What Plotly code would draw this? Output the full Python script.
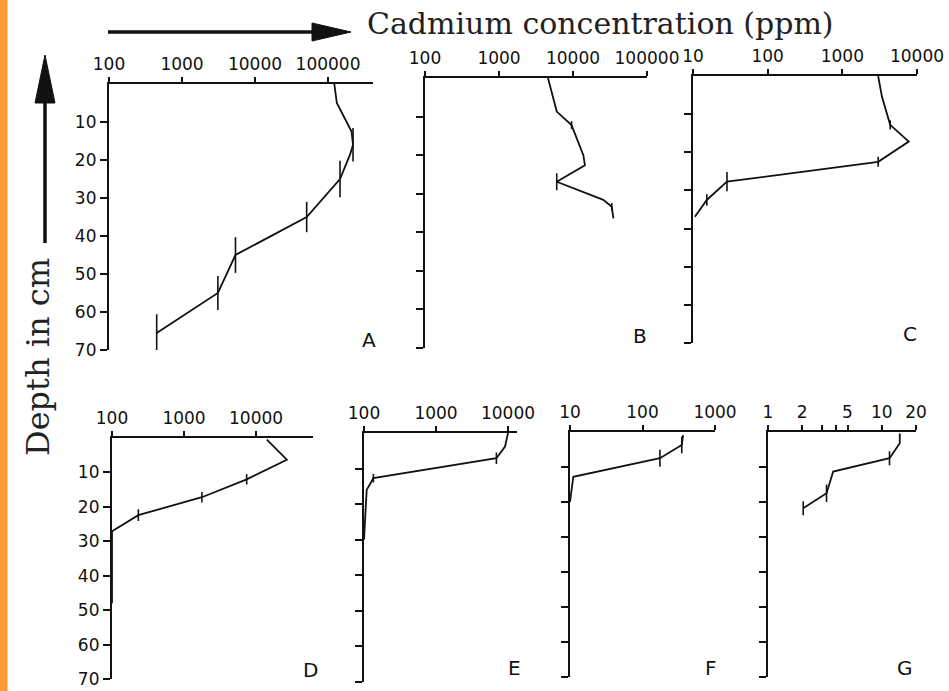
import plotly.graph_objects as go

W, H = 949, 691

# ---------------- data (depth in cm, cadmium in ppm) ----------------
panels = ["A", "B", "C", "D", "E", "F", "G"]

A_depth = [0, 5, 12.5, 16, 18.6, 25, 35, 45, 55, 65.5]
A_cd = [122000, 132000, 210000, 220000, 200000, 146000, 51000, 5400, 3100, 450]
A_bar = [0, 0, 0, 4.4, 0, 4.8, 4.0, 4.7, 4.5, 4.9]

B_depth = [0, 5.7, 8.7, 12.2, 20, 22.6, 26.9, 31.6, 33.4, 36.4]
B_cd = [4590, 5420, 6030, 9560, 13800, 14500, 6030, 25700, 33400, 35200]
B_bar = [0, 0, 0, 1.0, 0, 0, 2.2, 0, 1.0, 0]

C_depth = [0, 5.4, 12.8, 17.2, 22.5, 27.7, 32.5, 36.9]
C_cd = [3020, 3390, 4370, 7760, 3020, 28.5, 15.3, 10.6]
C_bar = [0, 0, 1.2, 0, 1.3, 2.5, 1.5, 0]

D_depth = [0.5, 6.3, 12, 17.2, 22.4, 27.1, 48]
D_cd = [14100, 26700, 7400, 1770, 232, 100, 100]
D_bar = [0, 0, 1.5, 1.5, 1.7, 0, 0]

E_depth = [0, 3.8, 7.1, 12.7, 16, 30]
E_cd = [10000, 9100, 6900, 135, 109, 100]
E_bar = [0, 0, 1.6, 1.2, 0, 0]

F_depth = [0.9, 3.7, 7.5, 12.8, 20]
F_cd = [363, 348, 174, 11.1, 10]
F_bar = [0, 2.4, 2.4, 0, 0]

G_depth = [0.4, 3.2, 7.5, 11.3, 17.5, 21.8]
G_cd = [14.4, 14.4, 11.7, 3.74, 3.27, 2.04]
G_bar = [0, 0, 2.0, 0, 2.5, 2.0]

depth_ticks = [10, 20, 30, 40, 50, 60, 70]

A_xticks = [100, 1000, 10000, 100000]
B_xticks = [100, 1000, 10000, 100000]
C_xticks = [10, 100, 1000, 10000]
D_xticks = [100, 1000, 10000]
E_xticks = [100, 1000, 10000]
F_xticks = [10, 100, 1000]
G_xticks = [1, 2, 3, 4, 5, 10, 20]
G_xtext = ["1", "2", "", "", "5", "10", "20"]

# ---------------- layout geometry (pixels) ----------------
# (x_left, x_right, y_top, y_bottom, log10 xmin, log10 xmax, show y labels)
geom = {
    "A": (109, 373, 84, 350, 2, 5.616, True),
    "B": (425, 647, 78, 348, 2, 5, False),
    "C": (693, 917, 76, 343, 1, 4, False),
    "D": (112, 313, 438, 679, 2, 4.79, True),
    "E": (364, 517, 433, 682, 2, 4.125, False),
    "F": (570, 715, 432, 677, 1, 3, False),
    "G": (768, 916, 432, 677, 0, 1.30103, False),
}
label_pos = {"A": (369, 340), "B": (640, 336), "C": (910, 334),
             "D": (310, 670), "E": (514, 668), "F": (711, 668), "G": (905, 668)}

data = {
    "A": (A_depth, A_cd, A_bar, A_xticks, None),
    "B": (B_depth, B_cd, B_bar, B_xticks, None),
    "C": (C_depth, C_cd, C_bar, C_xticks, None),
    "D": (D_depth, D_cd, D_bar, D_xticks, None),
    "E": (E_depth, E_cd, E_bar, E_xticks, None),
    "F": (F_depth, F_cd, F_bar, F_xticks, None),
    "G": (G_depth, G_cd, G_bar, G_xticks, G_xtext),
}


def fx(px):
    return px / W


def fy(py):
    return 1 - py / H


tickfont = dict(family="DejaVu Sans", size=17, color="#111")

fig = go.Figure()
layout = {}
for i, p in enumerate(panels, start=1):
    xl, xr, yt, yb, lo, hi, ylab = geom[p]
    depth, cd, bar, xt, xtt = data[p]
    xa = "x" if i == 1 else f"x{i}"
    ya = "y" if i == 1 else f"y{i}"
    fig.add_trace(go.Scatter(
        x=cd, y=depth, xaxis=xa, yaxis=ya, mode="lines",
        line=dict(color="#111", width=1.8),
        error_y=dict(type="data", symmetric=True, array=bar, width=0,
                     thickness=1.6, color="#111"),
        showlegend=False, hoverinfo="skip"))
    xkey = "xaxis" if i == 1 else f"xaxis{i}"
    ykey = "yaxis" if i == 1 else f"yaxis{i}"
    layout[xkey] = dict(
        type="log", range=[lo, hi], domain=[fx(xl), fx(xr)], anchor=ya,
        side="top", showline=True, linecolor="#111", linewidth=2.2,
        showgrid=False, zeroline=False, ticks="outside", ticklen=5,
        tickwidth=1.6, tickcolor="#111", tickvals=xt,
        ticktext=xtt if xtt else [str(v) for v in xt],
        tickfont=tickfont, fixedrange=True, automargin=False,
        ticklabeloverflow="allow")
    layout[ykey] = dict(
        range=[70, 0], domain=[fy(yb), fy(yt)], anchor=xa,
        showline=True, linecolor="#111", linewidth=2.2, showgrid=False,
        zeroline=False, ticks="outside", ticklen=7, tickwidth=2,
        tickcolor="#111", tickvals=depth_ticks,
        showticklabels=ylab, tickfont=tickfont, fixedrange=True,
        automargin=False, ticklabeloverflow="allow")

annotations = []
for p in panels:
    x, y = label_pos[p]
    annotations.append(dict(text=p, x=fx(x), y=fy(y), xref="paper", yref="paper",
                            showarrow=False, xanchor="center", yanchor="middle",
                            font=dict(family="DejaVu Sans", size=20, color="#111")))
annotations.append(dict(text="Cadmium concentration (ppm)", x=fx(365), y=fy(24),
                        xref="paper", yref="paper", showarrow=False,
                        xanchor="left", yanchor="middle",
                        font=dict(family="DejaVu Serif", size=30, color="#222")))
annotations.append(dict(text="Depth in cm", x=fx(38), y=fy(357),
                        xref="paper", yref="paper", showarrow=False, textangle=-90,
                        xanchor="center", yanchor="middle",
                        font=dict(family="DejaVu Serif", size=32, color="#222")))

shapes = [
    # orange strip on the left edge
    dict(type="rect", xref="paper", yref="paper", x0=0, x1=fx(7.5), y0=0, y1=1,
         fillcolor="#FF9933", line=dict(width=0), layer="above"),
    # horizontal arrow
    dict(type="line", xref="paper", yref="paper", x0=fx(108), x1=fx(318),
         y0=fy(32), y1=fy(32), line=dict(color="#111", width=3.5)),
    dict(type="path", xref="paper", yref="paper",
         path=f"M {fx(312)},{fy(23)} L {fx(351)},{fy(32)} L {fx(312)},{fy(41)} Z",
         fillcolor="#111", line=dict(color="#111", width=1)),
    # vertical arrow
    dict(type="line", xref="paper", yref="paper", x0=fx(45), x1=fx(45),
         y0=fy(243), y1=fy(98), line=dict(color="#111", width=3.5)),
    dict(type="path", xref="paper", yref="paper",
         path=f"M {fx(35)},{fy(103)} L {fx(45)},{fy(55)} L {fx(55)},{fy(103)} Z",
         fillcolor="#111", line=dict(color="#111", width=1)),
]

fig.update_layout(
    width=W, height=H, margin=dict(l=0, r=0, t=0, b=0, pad=0, autoexpand=False),
    paper_bgcolor="white", plot_bgcolor="white",
    annotations=annotations, shapes=shapes, **layout)

fig.write_html("out.html", config={"displayModeBar": False},
               post_script="document.body.style.margin='0';"
                           "document.body.style.overflow='hidden';")
